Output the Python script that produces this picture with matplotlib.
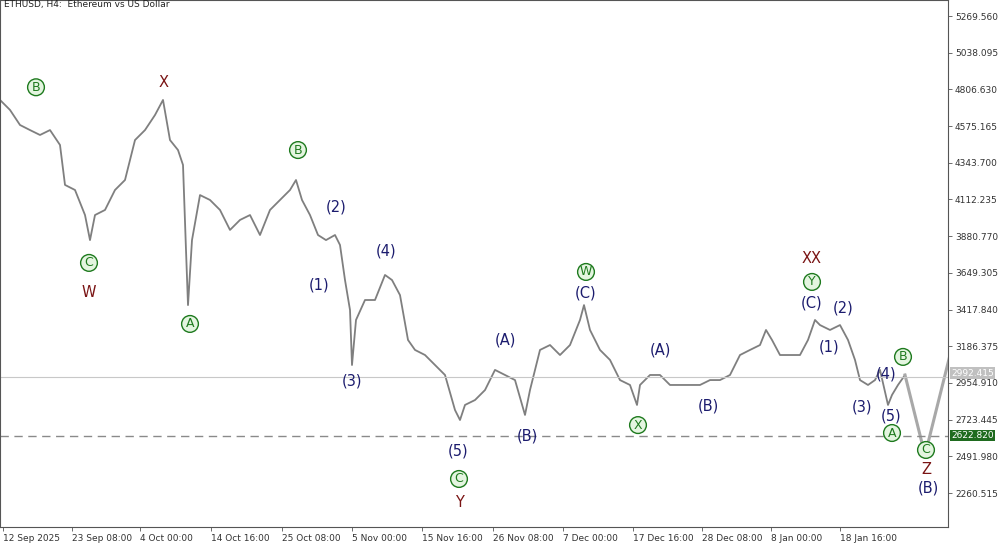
import matplotlib.pyplot as plt

# price path (x in chart pixels, price in USD)
bar_pos = [0, 10, 20, 30, 40, 50, 60, 65, 75, 85, 90, 95, 105, 115, 125, 135, 145, 155, 163,
           170, 178, 183, 186, 188, 192, 200, 210, 220, 230, 240, 250, 260, 270, 280, 290, 296,
           302, 310, 318, 326, 335, 340, 345, 350, 352, 356, 365, 375, 385, 392, 400, 408, 415,
           425, 435, 445, 455, 460, 465, 475, 485, 495, 505, 515, 525, 530, 540, 550, 560, 570,
           580, 584, 590, 600, 610, 620, 630, 637, 640, 650, 660, 670, 680, 690, 700, 710, 720,
           730, 740, 750, 760, 766, 772, 780, 790, 800, 808, 815, 820, 830, 840, 848, 855, 860,
           868, 875, 880, 888, 892, 898, 905]
price = [4740, 4677, 4582, 4550, 4519, 4550, 4456, 4204, 4172, 4014, 3856, 4014, 4046, 4172,
         4235, 4487, 4550, 4645, 4740, 4487, 4424, 4330, 3793, 3446, 3856, 4140, 4109, 4046,
         3920, 3983, 4014, 3888, 4046, 4109, 4172, 4235, 4109, 4014, 3888, 3856, 3888, 3825,
         3604, 3415, 3068, 3352, 3478, 3478, 3636, 3604, 3509, 3226, 3163, 3131, 3068, 3005,
         2784, 2721, 2816, 2847, 2910, 3037, 3005, 2973, 2753, 2910, 3163, 3194, 3131, 3194,
         3352, 3446, 3289, 3163, 3100, 2973, 2942, 2816, 2942, 3005, 3005, 2942, 2942, 2942,
         2942, 2973, 2973, 3005, 3131, 3163, 3194, 3289, 3226, 3131, 3131, 3131, 3226, 3352,
         3320, 3289, 3320, 3226, 3100, 2973, 2942, 2973, 3037, 2816, 2879, 2942, 3005]
proj_x = [905, 925, 950]
proj_y = [3005, 2500, 3131]

current_price = 2992.415
support = 2622.820
yticks = [5269.560, 5038.095, 4806.630, 4575.165, 4343.700, 4112.235, 3880.770,
          3649.305, 3417.840, 3186.375, 2954.910, 2723.445, 2491.980, 2260.515]
xtick_pos = [3, 72, 140, 211, 282, 352, 422, 493, 563, 633, 702, 771, 840]
xtick_labels = ["12 Sep 2025", "23 Sep 08:00", "4 Oct 00:00", "14 Oct 16:00", "25 Oct 08:00",
                "5 Nov 00:00", "15 Nov 16:00", "26 Nov 08:00", "7 Dec 00:00", "17 Dec 16:00",
                "28 Dec 08:00", "8 Jan 00:00", "18 Jan 16:00"]

G, B, R = "#1e7a1e", "#1c1c6e", "#7a1414"
# wave labels: x, price, text, colour, circled
labels = [
    (36, 4820, "B", G, True), (164, 4853, "X", R, False), (89, 3712, "C", G, True),
    (89, 3528, "W", R, False), (190, 3327, "A", G, True), (298, 4424, "B", G, True),
    (336, 4064, "(2)", B, False), (319, 3573, "(1)", B, False), (352, 2967, "(3)", B, False),
    (386, 3787, "(4)", B, False), (458, 2526, "(5)", B, False), (459, 2349, "C", G, True),
    (459, 2198, "Y", R, False), (505, 3226, "(A)", B, False), (527, 2620, "(B)", B, False),
    (586, 3655, "W", G, True), (586, 3522, "(C)", B, False), (638, 2689, "X", G, True),
    (660, 3163, "(A)", B, False), (708, 2809, "(B)", B, False), (812, 3737, "XX", R, False),
    (812, 3592, "Y", G, True), (812, 3459, "(C)", B, False), (843, 3428, "(2)", B, False),
    (829, 3182, "(1)", B, False), (862, 2803, "(3)", B, False), (886, 3011, "(4)", B, False),
    (891, 2746, "(5)", B, False), (892, 2639, "A", G, True), (903, 3119, "B", G, True),
    (926, 2532, "C", G, True), (926, 2406, "Z", R, False), (928, 2292, "(B)", B, False),
]

fig = plt.figure(figsize=(10, 5.45), dpi=100)
ax = fig.add_axes([0.0, 0.033, 0.948, 0.967])
ax.set_xlim(0, 948)
ax.set_ylim(2046, 5370.5)

ax.plot(bar_pos, price, color="#7f7f7f", lw=1.3)
ax.plot(proj_x, proj_y, color="#a8a8a8", lw=2.2)
ax.axhline(current_price, color="#c8c8c8", lw=0.8)
ax.axhline(support, color="#8a8a8a", lw=1, ls=(0, (6, 4)))

for x, y, t, c, circ in labels:
    if circ:
        ax.text(x, y, t, color=c, fontsize=9, ha="center", va="center",
                bbox=dict(boxstyle="circle,pad=0.15", fc="#e4f5e0", ec=c, lw=1))
    else:
        ax.text(x, y, t, color=c, fontsize=10.5, ha="center", va="center")

ax.text(4, 5325, "ETHUSD, H4:  Ethereum vs US Dollar", fontsize=6.5, color="#222222")

ax.yaxis.tick_right()
ax.set_yticks(yticks)
ax.set_yticklabels([f"{v:.3f}" for v in yticks], fontsize=6.5, color="#333333")
ax.set_xticks(xtick_pos)
ax.set_xticklabels(xtick_labels, fontsize=6.5, color="#333333", ha="left")
ax.tick_params(length=3, width=0.6, color="#555555", pad=2)

ax.text(951, current_price + 25, f"{current_price:.3f}", fontsize=6.5, color="white",
        va="center", transform=ax.transData, clip_on=False,
        bbox=dict(boxstyle="square,pad=0.15", fc="#c0c0c0", ec="none"))
ax.text(951, support, f"{support:.3f}", fontsize=6.5, color="white",
        va="center", transform=ax.transData, clip_on=False,
        bbox=dict(boxstyle="square,pad=0.15", fc="#1f6b1f", ec="none"))

for s in ax.spines.values():
    s.set_color("#555555")
    s.set_linewidth(0.8)

fig.savefig("out.png")
